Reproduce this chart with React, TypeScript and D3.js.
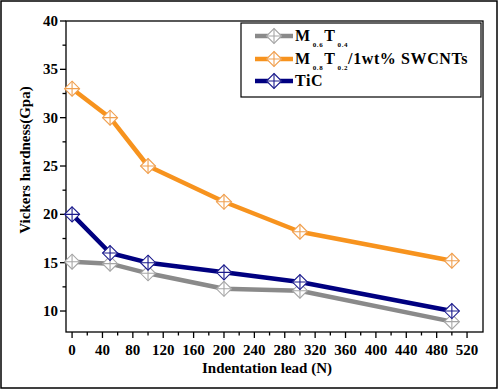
import { useEffect, useRef } from "react";
import * as d3 from "d3";

// loads (N)
const loads = [0, 50, 100, 200, 300, 500];
// hardness values (GPa)
const m06t04 = [15.1, 14.9, 13.9, 12.3, 12.1, 8.9];
const m08t02Cnt = [33, 30, 25, 21.3, 18.2, 15.2];
const tic = [20, 16, 15, 14, 13, 10];

const xTicks = [0, 40, 80, 120, 160, 200, 240, 280, 320, 360, 400, 440, 480, 520];
const yTicks = [10, 15, 20, 25, 30, 35, 40];

const series = [
  { name: "m06", values: m06t04, color: "#8a8a8a", marker: "#a6a6a6", sub: ["0.6", "0.4"], tail: "" },
  { name: "m08", values: m08t02Cnt, color: "#f7931e", marker: "#f0a050", sub: ["0.8", "0.2"], tail: "/1wt% SWCNTs" },
  { name: "tic", values: tic, color: "#000080", marker: "#1a1a8c", sub: null, tail: "TiC" },
];

const FONT = "'Liberation Serif', 'Times New Roman', serif";

export default function App() {
  const ref = useRef<SVGSVGElement>(null);

  useEffect(() => {
    document.body.style.margin = "0";
    const svg = d3.select(ref.current);
    svg.selectAll("*").remove();

    const left = 66, right = 483, top = 21, bottom = 332;
    const x = d3.scaleLinear().domain([-8, 541]).range([left, right]);
    const y = d3.scaleLinear().domain([7.83, 40]).range([bottom, top]);

    // outer border
    svg.append("rect").attr("x", 1).attr("y", 1).attr("width", 496).attr("height", 387)
      .attr("fill", "none").attr("stroke", "#000").attr("stroke-width", 1.5);

    // plot frame
    svg.append("rect").attr("x", left).attr("y", top).attr("width", right - left).attr("height", bottom - top)
      .attr("fill", "none").attr("stroke", "#000").attr("stroke-width", 1.3);

    // x axis ticks
    const xMinor = d3.range(20, 540, 40);
    svg.append("g").selectAll("line").data(xTicks).join("line")
      .attr("x1", (d) => x(d)).attr("x2", (d) => x(d)).attr("y1", bottom).attr("y2", bottom + 6)
      .attr("stroke", "#000").attr("stroke-width", 1.3);
    svg.append("g").selectAll("line").data(xMinor).join("line")
      .attr("x1", (d) => x(d)).attr("x2", (d) => x(d)).attr("y1", bottom).attr("y2", bottom + 3.5)
      .attr("stroke", "#000").attr("stroke-width", 1.3);
    svg.append("g").selectAll("text").data(xTicks).join("text")
      .attr("x", (d) => x(d)).attr("y", 355).attr("text-anchor", "middle")
      .style("font-family", FONT).style("font-weight", "bold").style("font-size", "15px")
      .text((d) => d);

    // y axis ticks
    const yMinor = d3.range(12.5, 40, 5);
    svg.append("g").selectAll("line").data(yTicks).join("line")
      .attr("x1", left - 6).attr("x2", left).attr("y1", (d) => y(d)).attr("y2", (d) => y(d))
      .attr("stroke", "#000").attr("stroke-width", 1.3);
    svg.append("g").selectAll("line").data(yMinor).join("line")
      .attr("x1", left - 3.5).attr("x2", left).attr("y1", (d) => y(d)).attr("y2", (d) => y(d))
      .attr("stroke", "#000").attr("stroke-width", 1.3);
    svg.append("g").selectAll("text").data(yTicks).join("text")
      .attr("x", 58).attr("y", (d) => y(d) + 5).attr("text-anchor", "end")
      .style("font-family", FONT).style("font-weight", "bold").style("font-size", "15px")
      .text((d) => d);

    // axis titles
    svg.append("text").attr("x", 267).attr("y", 373).attr("text-anchor", "middle")
      .style("font-family", FONT).style("font-weight", "bold").style("font-size", "15px")
      .text("Indentation lead (N)");
    svg.append("text").attr("transform", "translate(30,160) rotate(-90)").attr("text-anchor", "middle")
      .style("font-family", FONT).style("font-weight", "bold").style("font-size", "15px")
      .text("Vickers hardness(Gpa)");

    const line = d3.line<number>().x((_, i) => x(loads[i])).y((d) => y(d));

    const drawMarker = (g: d3.Selection<SVGGElement, unknown, null, undefined>, cx: number, cy: number, col: string) => {
      const r = 7.5;
      g.append("path")
        .attr("d", `M${cx},${cy - r}L${cx + r},${cy}L${cx},${cy + r}L${cx - r},${cy}Z`)
        .attr("fill", "#fff").attr("stroke", col).attr("stroke-width", 1.1);
      g.append("path")
        .attr("d", `M${cx - r},${cy}H${cx + r}M${cx},${cy - r}V${cy + r}`)
        .attr("stroke", col).attr("stroke-width", 1.1);
    };

    series.forEach((s) => {
      const g = svg.append("g");
      g.append("path").datum(s.values).attr("d", line).attr("fill", "none")
        .attr("stroke", s.color).attr("stroke-width", 4.5).attr("stroke-linejoin", "round");
      s.values.forEach((v, i) => drawMarker(g, x(loads[i]), y(v), s.marker));
    });

    // legend
    const lg = svg.append("g");
    lg.append("rect").attr("x", 241).attr("y", 23).attr("width", 240).attr("height", 74)
      .attr("fill", "#fff").attr("stroke", "#000").attr("stroke-width", 1.2);
    const rowY = [36, 59, 81];
    series.forEach((s, i) => {
      const cy = rowY[i];
      lg.append("line").attr("x1", 255).attr("x2", 293).attr("y1", cy).attr("y2", cy)
        .attr("stroke", s.color).attr("stroke-width", 4.5);
      drawMarker(lg as any, 274, cy, s.marker);
      const t = lg.append("text").attr("x", 295).attr("y", cy + 5)
        .style("font-family", FONT).style("font-weight", "bold").style("font-size", "16px")
        .style("letter-spacing", "0.6px");
      if (s.sub) {
        t.append("tspan").text("M");
        t.append("tspan").attr("dx", 2).attr("dy", 6).style("font-size", "7px").text(s.sub[0]);
        t.append("tspan").attr("dx", 1).attr("dy", -6).text("T");
        t.append("tspan").attr("dx", 2).attr("dy", 6).style("font-size", "7px").text(s.sub[1]);
        if (s.tail) t.append("tspan").attr("dy", -6).text(s.tail);
      } else {
        t.text(s.tail);
      }
    });
  }, []);

  return <svg ref={ref} width={499} height={390} style={{ display: "block", background: "#fff" }} />;
}
